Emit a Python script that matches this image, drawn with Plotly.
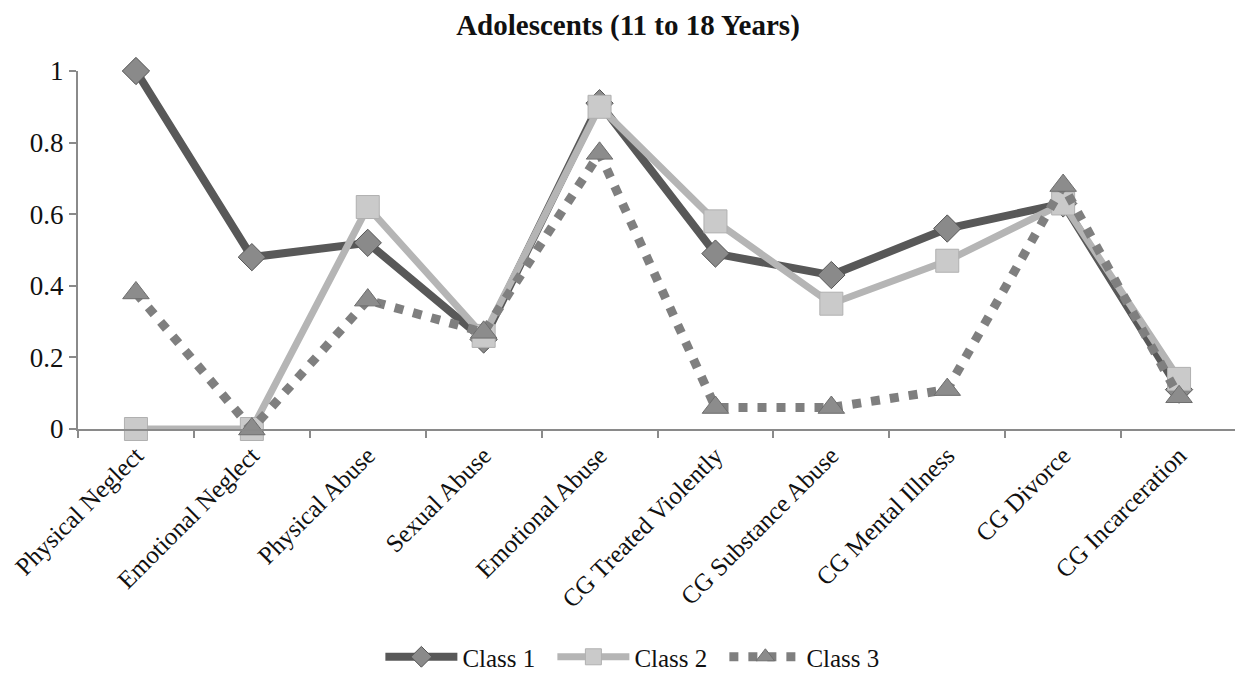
import plotly.graph_objects as go

categories = ["Physical Neglect", "Emotional Neglect", "Physical Abuse", "Sexual Abuse",
              "Emotional Abuse", "CG Treated Violently", "CG Substance Abuse",
              "CG Mental Illness", "CG Divorce", "CG Incarceration"]
class1 = [1.00, 0.48, 0.52, 0.25, 0.91, 0.49, 0.43, 0.56, 0.63, 0.11]
class2 = [0.00, 0.00, 0.62, 0.26, 0.90, 0.58, 0.35, 0.47, 0.63, 0.14]
class3 = [0.38, 0.00, 0.36, 0.27, 0.77, 0.06, 0.06, 0.11, 0.68, 0.09]

serif = "Liberation Serif, Times New Roman, serif"

fig = go.Figure()
fig.add_trace(go.Scatter(
    x=categories, y=class1, name="Class 1", mode="lines+markers",
    line=dict(color="#585858", width=8),
    marker=dict(symbol="diamond", size=21, color="#8a8a8a", line=dict(color="#555555", width=1)),
    cliponaxis=False))
fig.add_trace(go.Scatter(
    x=categories, y=class2, name="Class 2", mode="lines+markers",
    line=dict(color="#b5b5b5", width=7),
    marker=dict(symbol="square", size=23, color="#cacaca", line=dict(color="#b0b0b0", width=1)),
    cliponaxis=False))
fig.add_trace(go.Scatter(
    x=categories, y=class3, name="Class 3", mode="lines+markers",
    line=dict(color="#7f7f7f", width=9, dash="9px,10px"),
    marker=dict(symbol="triangle-up", size=23, color="#8c8c8c", line=dict(color="#6e6e6e", width=1)),
    cliponaxis=False))

fig.update_layout(
    width=1235, height=665,
    paper_bgcolor="white", plot_bgcolor="white",
    margin=dict(l=70, r=6, t=63, b=244, autoexpand=False),
    title=dict(text="<b>Adolescents (11 to 18 Years)</b>", x=0.502, xanchor="center",
               y=0.975, yanchor="middle", font=dict(family=serif, size=29, color="#111")),
    font=dict(family=serif, size=25, color="#111"),
    showlegend=True,
    legend=dict(orientation="h", x=0.4835, xanchor="center", y=-0.637, yanchor="middle",
                bgcolor="rgba(0,0,0,0)", entrywidth=85, entrywidthmode="pixels",
                font=dict(family=serif, size=25, color="#111"), itemwidth=72),
)
fig.update_xaxes(
    type="category", range=[-0.5, len(categories) - 0.5], tickangle=-45, showgrid=False, showline=True,
    linecolor="#8a8a8a", linewidth=2, ticks="outside", tickson="boundaries",
    ticklen=7, tickcolor="#8a8a8a", tickwidth=2, automargin=False,
    tickfont=dict(family=serif, size=25, color="#111"))
fig.update_yaxes(
    range=[0, 1], tickvals=[0, 0.2, 0.4, 0.6, 0.8, 1], ticktext=["0", "0.2", "0.4", "0.6", "0.8", "1"],
    showgrid=False, showline=True, linecolor="#8a8a8a", linewidth=2, zeroline=False,
    ticks="outside", ticklen=7, tickcolor="#8a8a8a", tickwidth=2, automargin=False,
    tickfont=dict(family=serif, size=27, color="#111"))

fig.write_html("out.html")
